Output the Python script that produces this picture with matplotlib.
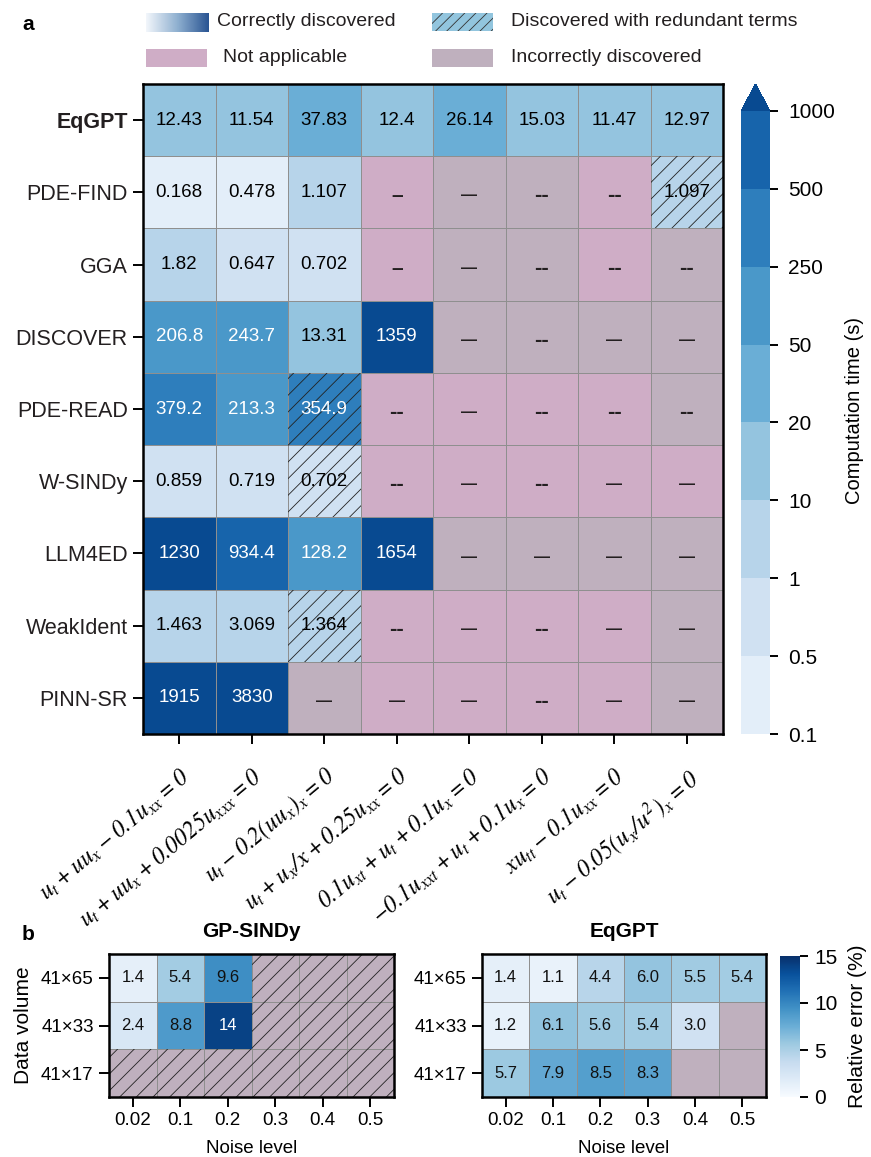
import matplotlib
matplotlib.use("Agg")
import matplotlib.pyplot as plt
import numpy as np
from matplotlib.colors import BoundaryNorm, LinearSegmentedColormap, ListedColormap
from matplotlib.patches import Rectangle

plt.rcParams["font.family"] = ["Liberation Sans", "DejaVu Sans"]
plt.rcParams["mathtext.fontset"] = "custom"
plt.rcParams["mathtext.rm"] = "STIXGeneral:italic"
plt.rcParams["mathtext.it"] = "STIXGeneral:italic"
plt.rcParams["mathtext.bf"] = "STIXGeneral:italic:bold"
plt.rcParams["hatch.linewidth"] = 0.6

W, H = 871, 1157
nan = np.nan

# ---- panel a data ----
METHODS = ["EqGPT", "PDE-FIND", "GGA", "DISCOVER", "PDE-READ",
           "W-SINDy", "LLM4ED", "WeakIdent", "PINN-SR"]
EQUATIONS = [
    r"$u_t+uu_x-0.1u_{xx}=0$",
    r"$u_t+uu_x+0.0025u_{xxx}=0$",
    r"$u_t-0.2(uu_x)_x=0$",
    r"$u_t+u_x/x+0.25u_{xx}=0$",
    r"$0.1u_{xt}+u_t+0.1u_x=0$",
    r"$-0.1u_{xxt}+u_t+0.1u_x=0$",
    r"$xu_{tt}-0.1u_{xx}=0$",
    r"$u_t-0.05(u_x/u^2)_x=0$",
]
# computation time (s), nan where nothing was found
TIMES = np.array([
    [12.43, 11.54, 37.83, 12.4, 26.14, 15.03, 11.47, 12.97],
    [0.168, 0.478, 1.107, nan, nan, nan, nan, 1.097],
    [1.82, 0.647, 0.702, nan, nan, nan, nan, nan],
    [206.8, 243.7, 13.31, 1359, nan, nan, nan, nan],
    [379.2, 213.3, 354.9, nan, nan, nan, nan, nan],
    [0.859, 0.719, 0.702, nan, nan, nan, nan, nan],
    [1230, 934.4, 128.2, 1654, nan, nan, nan, nan],
    [1.463, 3.069, 1.364, nan, nan, nan, nan, nan],
    [1915, 3830, nan, nan, nan, nan, nan, nan],
])
# C correct, R redundant terms, N not applicable, I incorrect
STATUS = [
    "CCCCCCCC",
    "CCCNIINR",
    "CCCNIINI",
    "CCCCIIII",
    "CCRNNNNI",
    "CCRNNNNN",
    "CCCCIIII",
    "CCRNNNNI",
    "CCINNNNI",
]
# dash drawn in empty cells: s short, l long, d double
DASHES = [
    "........",
    "...sldd.",
    "...slddd",
    "....ldll",
    "...dlddd",
    "...dldll",
    "....llll",
    "...dldll",
    "..llldll",
]
CBAR_BOUNDS = [0.1, 0.5, 1, 10, 20, 50, 250, 500, 1000]
CBAR_LABELS = ["0.1", "0.5", "1", "10", "20", "50", "250", "500", "1000"]

# ---- panel b data ----
NOISE = ["0.02", "0.1", "0.2", "0.3", "0.4", "0.5"]
VOLUME = ["41×65", "41×33", "41×17"]
GPSINDY_ERR = np.array([
    [1.4, 5.4, 9.6, nan, nan, nan],
    [2.4, 8.8, 14, nan, nan, nan],
    [nan, nan, nan, nan, nan, nan],
])
EQGPT_ERR = np.array([
    [1.4, 1.1, 4.4, 6.0, 5.5, 5.4],
    [1.2, 6.1, 5.6, 5.4, 3.0, nan],
    [5.7, 7.9, 8.5, 8.3, nan, nan],
])

PINK = "#cfadc6"
GREY = "#bfb0be"
EDGE = "#8f8f8f"
TXT = "#231f20"
# char, fontsize
DASH_STYLE = {"s": ("–", 15), "l": ("—", 11.5), "d": ("--", 16)}


def px_axes(fig, left, top, right, bottom):
    return fig.add_axes([left / W, 1 - bottom / H, (right - left) / W, (bottom - top) / H])


def style_frame(ax, lw=1.6):
    for sp in ax.spines.values():
        sp.set_linewidth(lw)
        sp.set_color("black")


fig = plt.figure(figsize=(W / 100, H / 100), dpi=100)

# ---------------- legend ----------------
grad_ax = px_axes(fig, 146, 13, 208, 32)
grad_cmap = LinearSegmentedColormap.from_list("g", ["#f2f6fb", "#8fb0d0", "#2a5593"])
grad_ax.imshow(np.linspace(0, 1, 100)[None, :], cmap=grad_cmap, aspect="auto")
grad_ax.axis("off")

for (x0, y0, fc, hatch) in [(432, 13, "#92c5de", "///"), (146, 49, PINK, None), (432, 49, GREY, None)]:
    fig.add_artist(Rectangle((x0 / W, 1 - (y0 + 18) / H), 61 / W, 18 / H,
                             transform=fig.transFigure, facecolor=fc,
                             edgecolor="#333333" if hatch else "none",
                             hatch=hatch, linewidth=0))
for (x0, y0, txt) in [(217, 21, "Correctly discovered"), (511, 21, "Discovered with redundant terms"),
                      (223, 57, "Not applicable"), (511, 57, "Incorrectly discovered")]:
    fig.text(x0 / W, 1 - y0 / H, txt, fontsize=14, va="center", ha="left", color=TXT)

fig.text(22 / W, 1 - 25 / H, "a", fontsize=15, fontweight="bold", va="center")
fig.text(22 / W, 1 - 935 / H, "b", fontsize=15, fontweight="bold", va="center")

# ---------------- panel a ----------------
ax = px_axes(fig, 143, 84, 723, 734)
nrow, ncol = TIMES.shape
cat = np.full(TIMES.shape, nan)
for i in range(nrow):
    for j in range(ncol):
        if STATUS[i][j] == "N":
            cat[i, j] = 0
        elif STATUS[i][j] == "I":
            cat[i, j] = 1
ax.pcolormesh(np.ma.masked_invalid(cat), cmap=ListedColormap([PINK, GREY]), vmin=-0.5, vmax=1.5,
              edgecolors=EDGE, linewidth=0.5)

blues = plt.cm.Blues(np.linspace(0.1, 0.9, 9))
cmap_a = ListedColormap(blues[:8]).with_extremes(over=blues[8])
norm_a = BoundaryNorm(CBAR_BOUNDS, 8)
mesh_a = ax.pcolormesh(np.ma.masked_invalid(TIMES), cmap=cmap_a, norm=norm_a,
                       edgecolors=EDGE, linewidth=0.5)

for i in range(nrow):
    for j in range(ncol):
        v = TIMES[i, j]
        if STATUS[i][j] == "R":
            ax.add_patch(Rectangle((j, i), 1, 1, fill=False, hatch="//", edgecolor="#222222", linewidth=0))
        if not np.isnan(v):
            ax.text(j + 0.5, i + 0.5, f"{v:g}", ha="center", va="center", fontsize=13.5,
                    color="white" if v > 50 else "black")
        else:
            ch, fs = DASH_STYLE[DASHES[i][j]]
            ax.text(j + 0.5, i + 0.55, ch, ha="center", va="center",
                    fontsize=fs, fontweight="bold", color=TXT)

ax.set_xlim(0, ncol)
ax.set_ylim(nrow, 0)
ax.set_yticks(np.arange(nrow) + 0.5)
ax.set_yticklabels(METHODS, fontsize=15.5, color=TXT)
ax.get_yticklabels()[0].set_fontweight("bold")
ax.set_xticks(np.arange(ncol) + 0.5)
ax.set_xticklabels(EQUATIONS, fontsize=17, rotation=40, ha="right", rotation_mode="anchor")
ax.tick_params(length=7, width=1.4, pad=4)
ax.tick_params(axis="x", pad=15)
style_frame(ax, 1.8)

cax = px_axes(fig, 741, 84, 770, 734)
cb = fig.colorbar(mesh_a, cax=cax, extend="max", extendfrac=0.0433, ticks=CBAR_BOUNDS,
                  spacing="uniform")
cb.outline.set_visible(False)
cb.set_ticklabels(CBAR_LABELS)
cb.ax.tick_params(labelsize=15, length=6, width=1.4, pad=7)
cb.set_label("Computation time (s)", fontsize=14.5, labelpad=10)
cb.ax.yaxis.set_label_coords(3.6, 0.52)

# ---------------- panel b ----------------
cmap_b = plt.cm.Blues


def error_map(ax, data, fmt, hatch_empty):
    r, c = data.shape
    empty = np.where(np.isnan(data), 1.0, nan)
    ax.pcolormesh(np.ma.masked_invalid(empty), cmap=ListedColormap([GREY]), vmin=0, vmax=2,
                  edgecolors=EDGE, linewidth=0.5)
    m = ax.pcolormesh(np.ma.masked_invalid(data), cmap=cmap_b, vmin=0, vmax=15,
                      edgecolors=EDGE, linewidth=0.5)
    for i in range(r):
        for j in range(c):
            v = data[i, j]
            if np.isnan(v):
                if hatch_empty:
                    ax.add_patch(Rectangle((j, i), 1, 1, fill=False, hatch="//",
                                           edgecolor="#222222", linewidth=0))
            else:
                ax.text(j + 0.5, i + 0.5, fmt(v), ha="center", va="center", fontsize=12,
                        color="white" if v > 10 else "#111111")
    ax.set_xlim(0, c)
    ax.set_ylim(r, 0)
    ax.set_xticks(np.arange(c) + 0.5)
    ax.set_xticklabels(NOISE, fontsize=13.5)
    ax.set_yticks(np.arange(r) + 0.5)
    ax.set_xlabel("Noise level", fontsize=13.5, labelpad=8)
    ax.tick_params(length=7, width=1.4, pad=4)
    style_frame(ax, 1.8)
    return m


ax_b1 = px_axes(fig, 109, 954, 394, 1097)
error_map(ax_b1, GPSINDY_ERR, lambda v: f"{v:g}", True)
ax_b1.set_yticklabels(VOLUME, fontsize=13.5)
ax_b1.set_ylabel("Data volume", fontsize=15, labelpad=6)
ax_b1.set_title("GP-SINDy", fontsize=15, fontweight="bold", pad=12)

ax_b2 = px_axes(fig, 482, 954, 766, 1097)
m_b = error_map(ax_b2, EQGPT_ERR, lambda v: f"{v:.1f}", False)
ax_b2.set_yticklabels(VOLUME, fontsize=13.5)
ax_b2.set_title("EqGPT", fontsize=15, fontweight="bold", pad=12)

cax_b = px_axes(fig, 780, 956, 800, 1097)
cb_b = fig.colorbar(m_b, cax=cax_b, ticks=[0, 5, 10, 15])
cb_b.outline.set_visible(False)
cb_b.ax.tick_params(labelsize=15, length=6, width=1.4, pad=4)
cb_b.set_label("Relative error (%)", fontsize=15, labelpad=8)

fig.savefig("out.png", dpi=100)
